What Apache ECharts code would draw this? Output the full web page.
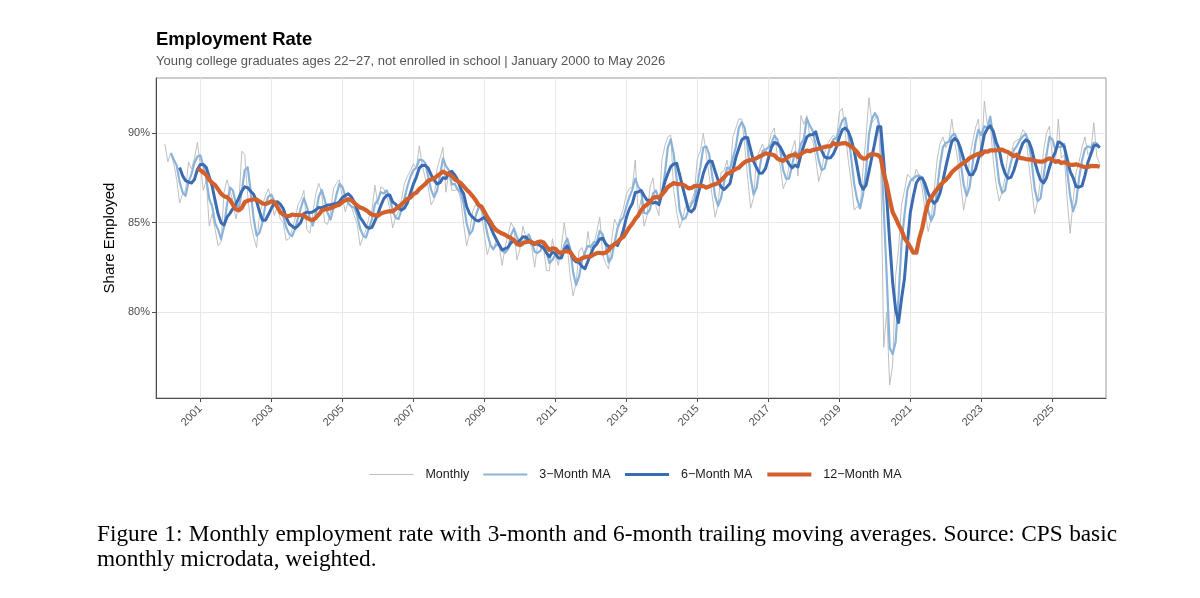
<!DOCTYPE html>
<html>
<head>
    <meta charset="UTF-8">
    <title>Employment Rate</title>
    <script src="https://cdn.jsdelivr.net/npm/echarts@6/dist/echarts.min.js"></script>
    <style>
        body { margin: 0; background: #fff; }
        #wrap { position: relative; width: 1200px; height: 598px; }
        #main { width: 1200px; height: 598px; }
        .cap {
            position: absolute; left: 97px; width: 1020px;
            font-family: 'Liberation Serif', serif; font-size: 23.3px;
            line-height: 25px; color: #000; white-space: nowrap;
        }
        #cap1 { top: 521px; text-align: justify; text-align-last: justify; }
        #cap2 { top: 546px; }
    </style>
</head>
<body>
<div id="wrap">
    <div id="main"></div>
    <div class="cap" id="cap1">Figure 1: Monthly employment rate with 3-month and 6-month trailing moving averages. Source: CPS basic</div>
    <div class="cap" id="cap2">monthly microdata, weighted.</div>
</div>
<script>
    // monthly share employed (%), January 2000 .. May 2026, one row per year
    var firstYear = 2000;
    var monthlyRate = [
        89.4, 88.4, 88.9, 88.3, 87.4, 86.1, 86.6, 86.8, 88.4, 88.0, 88.6, 89.5,
        88.2, 86.8, 87.4, 84.8, 85.5, 84.6, 83.7, 83.9, 86.7, 87.4, 86.8, 86.2,
        85.2, 86.0, 89.0, 88.8, 86.5, 85.0, 84.2, 83.6, 85.5, 86.0, 86.5, 86.9,
        86.3, 85.4, 85.9, 85.2, 85.0, 84.0, 84.1, 84.6, 85.2, 86.0, 86.3, 86.8,
        84.6, 84.4, 85.5, 86.6, 87.2, 86.7, 85.0, 84.9, 85.6, 86.9, 87.2, 87.4,
        86.4, 85.6, 86.2, 85.9, 85.4, 84.9, 83.7, 84.2, 84.6, 85.3, 85.7, 87.1,
        86.0, 87.0, 86.9, 86.5, 85.8, 84.7, 85.3, 85.6, 86.3, 87.2, 87.6, 87.9,
        88.3, 88.0, 89.3, 88.2, 87.5, 87.0, 86.0, 86.3, 88.0, 88.6, 89.2, 86.7,
        87.9, 86.8, 86.8, 86.9, 86.3, 84.9, 83.7, 84.4, 85.6, 86.0, 85.9, 85.6,
        84.3, 83.2, 83.8, 83.5, 84.0, 83.7, 82.6, 83.6, 84.3, 85.0, 84.7, 82.9,
        83.5, 84.8, 84.2, 84.0, 83.6, 82.5, 83.8, 84.0, 83.6, 82.3, 82.3, 84.1,
        83.2, 82.6, 83.6, 85.0, 83.7, 82.0, 80.9, 81.6, 83.4, 83.6, 83.0, 84.5,
        83.4, 83.8, 84.5, 85.3, 83.2, 82.7, 82.4, 84.0, 85.2, 84.8, 85.3, 85.8,
        86.6, 86.9, 87.0, 88.5, 85.5, 86.3, 84.8, 85.4, 87.0, 87.5, 85.9, 85.4,
        88.5, 89.3, 89.8, 89.9, 86.8, 85.6, 84.7, 85.2, 85.9, 86.0, 86.2, 86.7,
        88.6, 89.0, 90.0, 88.8, 87.6, 86.5, 85.3, 86.0, 87.8, 87.9, 88.5, 87.6,
        89.8, 90.3, 90.8, 90.8, 89.3, 87.5, 85.8, 86.4, 88.6, 89.0, 89.4, 88.9,
        89.3, 90.0, 90.3, 88.7, 88.2, 86.9, 87.3, 88.2, 89.1, 89.6, 87.6, 91.0,
        90.5, 91.0, 89.8, 89.6, 88.6, 87.3, 87.9, 88.9, 89.4, 89.7, 89.9, 89.6,
        91.2, 91.4, 90.0, 88.5, 87.3, 85.7, 85.9, 85.8, 88.0, 89.8, 92.0, 90.6,
        90.8, 91.0, 88.0, 78.0, 80.0, 75.9, 77.0, 82.0, 83.5, 86.0, 86.8, 87.7,
        87.5, 87.3, 88.0, 87.6, 86.9, 85.6, 84.5, 85.2, 86.7, 88.5, 89.4, 89.8,
        89.2, 89.6, 90.8, 89.5, 88.5, 87.2, 85.7, 86.6, 88.6, 89.5, 90.3, 90.8,
        88.6, 91.8, 90.5, 90.5, 88.5, 87.1, 86.2, 86.7, 87.5, 88.9, 88.8, 89.5,
        89.6, 89.7, 90.2, 90.0, 88.3, 86.9, 85.5, 86.2, 87.4, 89.0, 90.0, 90.4,
        88.6, 88.3, 90.8, 88.6, 88.8, 86.3, 84.4, 86.2, 87.8, 88.4, 89.2, 89.8,
        88.8, 89.0, 90.6, 88.7, 88.3
    ];

    var seriesNames = ['Monthly', '3\u2212Month MA', '6\u2212Month MA', '12\u2212Month MA'];
    var maWindows = [1, 3, 6, 12];
    var xTickYears = [2001, 2003, 2005, 2007, 2009, 2011, 2013, 2015, 2017, 2019, 2021, 2023, 2025];
    var yTickValues = [80, 85, 90];

    var colors = ['#b8b8b8', '#8bb3da', '#3b6bb1', '#d35f2b'];
    var widths = [0.9, 2.2, 3, 4.2];
    var font = 'Liberation Sans';

    function monthX(i) {
        return firstYear + i / 12;
    }

    // trailing average over k months, first point once k months are available
    function trailing(values, k) {
        var out = [];
        for (var i = k - 1; i < values.length; i++) {
            var s = 0;
            for (var j = i - k + 1; j <= i; j++) s += values[j];
            out.push([monthX(i), s / k]);
        }
        return out;
    }

    var series = seriesNames.map(function (name, n) {
        return {
            name: name,
            type: 'line',
            data: trailing(monthlyRate, maWindows[n]),
            showSymbol: false,
            symbol: 'none',
            z: 2 + n,
            color: colors[n],
            itemStyle: { color: colors[n], opacity: 0 },
            lineStyle: { color: colors[n], width: widths[n], join: 'round' }
        };
    });

    var legendItems = seriesNames.map(function (name, n) {
        return { name: name, lineStyle: { color: colors[n], width: widths[n] } };
    });

    var chart = echarts.init(document.getElementById('main'));
    chart.setOption({
        animation: false,
        textStyle: { fontFamily: font },
        title: [{
            text: 'Employment Rate',
            left: 156, top: 30, padding: 0,
            textStyle: { fontSize: 18.5, fontWeight: 'bold', color: '#000', fontFamily: font }
        }, {
            text: 'Young college graduates ages 22\u221227, not enrolled in school | January 2000 to May 2026',
            left: 156, top: 55, padding: 0,
            textStyle: { fontSize: 13, fontWeight: 'normal', color: '#555', fontFamily: font }
        }],
        grid: {
            left: 156, right: 94, top: 78, bottom: 200,
            show: true, borderColor: '#9a9a9a', borderWidth: 1, backgroundColor: '#fff'
        },
        legend: {
            left: 364, top: 463,
            itemWidth: 44, itemHeight: 10, itemGap: 13,
            itemStyle: { opacity: 0, borderWidth: 0 },
            textStyle: { fontSize: 12.5, color: '#1a1a1a', fontFamily: font, padding: [0, 0, 0, 7] },
            data: legendItems
        },
        xAxis: {
            type: 'value', min: 1999.75, max: 2026.51,
            axisLine: { show: true, onZero: false, lineStyle: { color: '#4d4d4d', width: 1 } },
            axisTick: { show: true, customValues: xTickYears, length: 4, lineStyle: { color: '#4d4d4d' } },
            axisLabel: {
                customValues: xTickYears, rotate: 45, margin: 9,
                fontSize: 11, color: '#4d4d4d', fontFamily: font,
                formatter: function (v) { return String(v); }
            },
            splitLine: { show: true, lineStyle: { color: '#e8e8e8', width: 1 } }
        },
        yAxis: {
            type: 'value', min: 75.17, max: 93.1,
            name: 'Share Employed', nameLocation: 'middle', nameGap: 34,
            nameTextStyle: { fontSize: 15, color: '#000', fontFamily: font },
            axisLine: { show: true, lineStyle: { color: '#4d4d4d', width: 1 } },
            axisTick: { show: true, customValues: yTickValues, length: 4, lineStyle: { color: '#4d4d4d' } },
            axisLabel: {
                customValues: yTickValues, margin: 6,
                fontSize: 11, color: '#4d4d4d', fontFamily: font,
                formatter: function (v) { return v + '%'; }
            },
            splitLine: { show: true, lineStyle: { color: '#e8e8e8', width: 1 } }
        },
        series: series
    });
</script>
</body>
</html>
